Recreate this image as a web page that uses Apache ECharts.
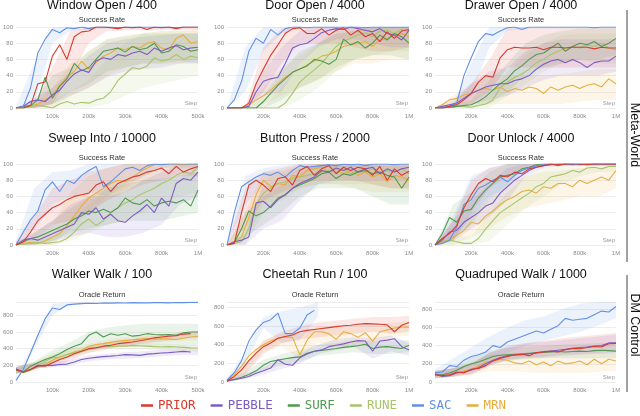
<!DOCTYPE html>
<html><head><meta charset="utf-8">
<script src="https://cdn.jsdelivr.net/npm/echarts@6.0.0/dist/echarts.min.js"></script>
<style>html,body{margin:0;padding:0;background:#fff}#c{width:640px;height:416px}</style>
</head><body><div id="c"></div>
<script>
// x positions (thousands of steps)
const xs500 = [0,20,40,60,80,100,120,140,160,180,200,220,240,260,280,300,320,340,360,380,400,420,440,460,480,500];
const xs1M = [0,40,80,120,160,200,240,280,320,360,400,440,480,520,560,600,640,680,720,760,800,840,880,920,960,1000];
const bx500 = [0,50,100,150,200,250,300,350,400,450,500];
const bx1M = [0,100,200,300,400,500,600,700,800,900,1000];

// Window Open / 400
const woSAC = [0,2,25,68,85,97,93,99,98,100,98,100,100,100,99,100,100,100,100,100,100,100,99,100,100,100];
const woPRIOR = [0,0,3,30,32,64,78,60,88,94,95,100,100,99,98,100,99,100,97,100,99,100,98,100,100,100];
const woPEBBLE = [0,2,8,10,8,16,22,33,42,47,44,58,62,60,66,64,68,70,66,74,70,74,77,72,74,75];
const woSURF = [0,2,3,10,38,12,27,36,55,46,50,60,70,72,74,69,76,72,74,80,68,70,78,76,70,72];
const woRUNE = [0,0,2,3,2,0,5,8,5,7,6,10,12,20,34,42,50,48,52,62,58,60,66,60,64,62];
const woMRN = [0,0,2,5,10,16,28,38,45,58,48,56,64,68,74,72,76,74,80,82,74,72,86,90,80,82];
const woSACBand = [[0,2],[5,55],[80,100],[95,100],[97,100],[98,100],[98,100],[98,100],[98,100],[98,100],[98,100]];
const woPRIORBand = [[0,0],[0,5],[5,50],[40,95],[80,100],[95,100],[96,100],[96,100],[96,100],[96,100],[96,100]];
const woPEBBLEBand = [[0,0],[0,12],[5,25],[15,45],[25,65],[38,80],[45,85],[48,88],[50,90],[55,92],[55,92]];
const woSURFBand = [[0,0],[0,10],[5,40],[20,50],[30,70],[45,85],[50,88],[55,92],[55,92],[58,92],[55,92]];
const woRUNEBand = [[0,0],[0,3],[0,10],[0,20],[0,35],[5,60],[15,80],[25,92],[30,95],[35,95],[40,95]];
const woMRNBand = [[0,0],[0,5],[0,25],[15,55],[25,70],[40,85],[50,90],[55,92],[55,95],[55,95],[60,97]];

// Door Open / 4000
const doSAC = [0,10,33,70,86,80,97,90,98,100,100,99,100,100,100,100,100,100,100,99,100,100,100,100,100,100];
const doPRIOR = [0,0,0,6,30,48,65,78,92,98,99,92,92,98,90,96,99,90,96,88,92,82,94,86,95,97];
const doPEBBLE = [0,0,0,2,20,33,36,38,55,74,78,80,86,93,96,98,97,100,98,96,94,98,92,90,84,96];
const doSURF = [0,0,0,0,0,8,18,28,36,44,48,52,60,58,54,60,85,78,82,74,80,90,84,92,88,80];
const doRUNE = [0,0,0,0,0,0,0,0,6,18,32,40,47,55,66,76,82,86,90,93,88,95,96,92,97,94];
const doMRN = [0,0,0,4,10,15,22,30,38,44,48,53,58,64,66,70,76,78,80,82,76,84,86,90,92,88];
const doSACBand = [[0,0],[20,75],[70,100],[92,100],[98,100],[98,100],[98,100],[98,100],[98,100],[98,100],[98,100]];
const doPRIORBand = [[0,0],[0,0],[20,75],[55,98],[80,100],[80,100],[80,100],[75,100],[70,100],[70,100],[75,100]];
const doPEBBLEBand = [[0,0],[0,0],[15,45],[20,75],[55,95],[75,100],[85,100],[85,100],[80,100],[75,100],[75,100]];
const doSURFBand = [[0,0],[0,0],[0,15],[10,45],[25,70],[35,80],[50,92],[60,95],[65,100],[65,100],[60,100]];
const doRUNEBand = [[0,0],[0,0],[0,0],[0,25],[10,55],[25,80],[45,95],[60,100],[65,100],[70,100],[70,100]];
const doMRNBand = [[0,0],[0,0],[5,25],[15,50],[25,65],[35,80],[45,90],[55,95],[55,98],[60,100],[60,100]];

// Drawer Open / 4000
const drSAC = [0,0,2,6,40,62,82,92,90,95,99,100,97,100,100,100,100,100,100,100,100,100,99,100,100,100];
const drPRIOR = [0,0,2,4,10,18,32,40,38,62,72,75,74,74,75,72,75,75,74,75,75,75,73,75,74,74];
const drPEBBLE = [0,2,4,6,12,18,22,26,28,30,30,34,36,40,48,54,58,60,56,60,56,50,56,58,58,64];
const drSURF = [0,0,1,2,3,4,8,14,22,30,36,46,52,60,66,68,74,80,70,76,80,78,82,76,80,86];
const drRUNE = [0,0,1,2,2,1,3,5,10,25,32,38,42,48,56,60,66,70,74,76,74,78,76,80,74,72];
const drMRN = [0,4,10,12,16,18,22,24,22,26,20,24,22,26,24,18,26,22,26,28,24,28,30,26,36,30];
const drSACBand = [[0,0],[0,5],[15,55],[75,100],[95,100],[98,100],[98,100],[98,100],[98,100],[98,100],[98,100]];
const drPRIORBand = [[0,0],[0,5],[5,30],[20,60],[50,98],[50,100],[50,100],[50,100],[50,100],[50,100],[50,100]];
const drPEBBLEBand = [[0,0],[0,10],[5,30],[10,45],[15,50],[25,70],[35,80],[40,85],[40,85],[40,85],[45,85]];
const drSURFBand = [[0,0],[0,5],[0,10],[5,35],[20,55],[40,80],[50,90],[55,95],[60,98],[60,98],[65,98]];
const drRUNEBand = [[0,0],[0,3],[0,5],[0,15],[15,45],[30,65],[45,80],[55,90],[60,92],[55,92],[55,92]];
const drMRNBand = [[0,0],[0,15],[5,30],[5,40],[5,40],[5,40],[5,40],[5,42],[8,45],[10,48],[10,48]];

// Sweep Into / 10000
const siSAC = [0,16,31,42,68,78,66,80,76,86,92,97,72,78,86,94,96,92,98,100,99,100,100,100,100,100];
const siPRIOR = [0,4,16,30,38,46,50,56,60,62,64,74,78,66,76,80,84,86,90,92,95,88,97,90,94,97];
const siPEBBLE = [0,6,8,6,10,14,18,22,26,40,38,46,32,38,30,28,36,42,50,40,58,48,76,82,80,90];
const siSURF = [0,4,8,10,14,18,22,26,32,36,42,40,44,40,46,58,52,50,56,48,52,54,52,56,48,68];
const siRUNE = [0,1,2,3,2,3,4,8,16,26,32,24,30,40,46,52,56,62,66,70,76,80,86,90,88,96];
const siMRN = [0,2,3,2,5,10,14,24,36,48,58,64,70,76,80,78,84,90,95,99,100,100,100,99,100,100];
const siSACBand = [[0,5],[20,70],[50,90],[60,92],[65,100],[60,100],[75,100],[85,100],[95,100],[98,100],[98,100]];
const siPRIORBand = [[0,5],[5,35],[25,70],[30,80],[40,90],[55,95],[65,100],[75,100],[80,100],[85,100],[85,100]];
const siPEBBLEBand = [[0,3],[0,15],[5,30],[10,50],[15,60],[10,60],[10,65],[15,80],[25,90],[50,100],[60,100]];
const siSURFBand = [[0,3],[0,15],[5,30],[15,45],[20,60],[25,70],[30,75],[30,80],[30,82],[35,85],[40,90]];
const siRUNEBand = [[0,0],[0,5],[0,10],[5,30],[15,50],[25,70],[30,80],[40,90],[50,95],[60,100],[65,100]];
const siMRNBand = [[0,0],[0,5],[0,25],[20,65],[40,85],[60,95],[70,100],[85,100],[95,100],[95,100],[95,100]];

// Button Press / 2000
const bpSAC = [0,40,72,78,84,88,86,90,84,92,98,96,97,98,99,98,100,99,100,98,100,100,100,99,100,100];
const bpPRIOR = [0,2,40,74,80,74,66,82,84,74,92,97,86,94,98,88,96,92,96,94,86,97,80,94,86,91];
const bpPEBBLE = [0,4,6,10,52,54,46,56,62,70,76,80,84,92,90,95,92,96,90,94,96,88,94,90,94,96];
const bpSURF = [0,3,20,42,36,40,48,58,62,70,74,78,82,88,90,82,88,86,90,92,88,90,86,84,70,84];
const bpRUNE = [0,2,4,20,50,64,70,76,78,82,84,86,88,90,92,90,94,88,92,90,94,88,92,90,94,88];
const bpMRN = [0,4,10,34,62,80,72,76,74,86,84,92,94,96,90,94,88,92,86,90,84,88,78,86,84,80];
const bpSACBand = [[0,5],[50,85],[75,95],[80,98],[92,100],[95,100],[96,100],[97,100],[97,100],[98,100],[98,100]];
const bpPRIORBand = [[0,0],[20,70],[55,90],[65,95],[75,100],[80,100],[80,100],[80,100],[75,100],[70,100],[70,100]];
const bpPEBBLEBand = [[0,0],[0,15],[20,75],[30,80],[55,95],[75,100],[80,100],[80,100],[80,100],[80,100],[80,100]];
const bpSURFBand = [[0,0],[10,40],[25,60],[40,75],[60,90],[70,98],[70,98],[70,98],[60,98],[50,98],[50,98]];
const bpRUNEBand = [[0,0],[0,20],[40,80],[60,90],[70,95],[75,98],[75,98],[75,98],[75,98],[70,98],[70,98]];
const bpMRNBand = [[0,0],[5,40],[50,90],[55,92],[70,98],[75,100],[75,100],[70,100],[65,98],[65,98],[65,98]];

// Door Unlock / 4000
const duSAC = [0,2,6,22,50,56,70,74,80,84,78,86,92,95,98,99,100,100,100,99,100,100,100,100,100,100];
const duPRIOR = [0,8,14,24,46,62,76,82,78,86,84,90,88,94,96,98,100,99,100,100,100,99,100,100,100,100];
const duPEBBLE = [0,6,16,18,28,34,40,48,52,64,72,80,86,92,96,98,99,100,100,100,100,100,100,100,100,100];
const duSURF = [0,14,34,28,42,44,58,68,76,84,86,88,94,96,99,100,100,98,100,100,99,100,100,100,100,100];
const duRUNE = [0,4,6,4,2,2,8,20,30,40,46,52,58,64,72,76,84,86,88,92,90,95,96,94,97,97];
const duMRN = [0,4,6,12,18,28,26,36,42,50,56,60,66,68,64,72,70,76,76,72,80,76,80,84,80,92];
const duSACBand = [[0,0],[5,35],[35,85],[60,95],[70,100],[92,100],[98,100],[98,100],[98,100],[98,100],[98,100]];
const duPRIORBand = [[0,0],[5,30],[40,80],[70,95],[85,100],[95,100],[98,100],[98,100],[98,100],[98,100],[98,100]];
const duPEBBLEBand = [[0,0],[5,30],[20,55],[35,75],[55,95],[85,100],[95,100],[98,100],[98,100],[98,100],[98,100]];
const duSURFBand = [[0,0],[10,50],[25,65],[55,90],[75,100],[95,100],[98,100],[98,100],[98,100],[98,100],[98,100]];
const duRUNEBand = [[0,0],[0,12],[0,10],[5,40],[25,65],[45,85],[60,95],[75,100],[85,100],[90,100],[90,100]];
const duMRNBand = [[0,0],[0,15],[10,40],[20,55],[35,75],[45,85],[50,90],[55,92],[60,95],[60,95],[70,100]];

// Walker Walk / 100
const wwSAC = [20,150,350,560,760,888,870,925,935,940,945,942,948,946,950,948,952,950,950,952,953,950,954,952,955,955];
const wwPRIOR = [150,120,150,200,190,230,270,300,340,370,400,410,430,440,460,470,480,495,510,530,540,550,555,575,580,null];
const wwPEBBLE = [160,120,150,190,200,200,210,215,240,270,285,295,305,310,318,328,325,320,335,340,348,352,360,368,360,null];
const wwSURF = [140,120,190,230,270,300,340,390,430,460,560,600,540,580,560,580,550,560,580,570,565,570,560,590,600,600];
const wwRUNE = [140,110,150,190,250,290,300,330,350,370,390,410,420,425,430,430,440,435,430,425,420,425,420,415,410,408];
const wwMRN = [150,110,140,180,210,260,300,330,360,380,430,450,460,475,490,500,505,515,520,515,520,515,510,525,540,545];
const wwSACBand = [[0,60],[400,480],[800,940],[930,955],[940,960],[945,960],[945,960],[945,960],[945,960],[945,960],[945,960]];
const wwPRIORBand = [[100,180],[160,220],[180,260],[260,330],[350,430],[400,480],[430,500],[460,540],[490,560],[520,590],[540,610]];
const wwPEBBLEBand = [[100,180],[160,230],[180,240],[200,260],[250,320],[270,340],[280,360],[290,370],[310,390],[320,400],[320,400]];
const wwSURFBand = [[100,180],[150,250],[220,380],[300,480],[380,600],[420,650],[420,680],[420,700],[420,700],[420,700],[430,700]];
const wwRUNEBand = [[100,180],[160,240],[260,340],[320,400],[350,430],[380,460],[390,470],[390,470],[380,460],[370,450],[360,440]];
const wwMRNBand = [[100,180],[150,230],[220,320],[300,400],[380,460],[420,510],[450,540],[470,560],[480,570],[490,580],[500,590]];

// Cheetah Run / 100
const crSAC = [20,100,230,440,560,640,670,740,520,520,580,720,770,null,null,null,null,null,null,null,null,null,null,null,null,null];
const crPRIOR = [10,60,130,230,310,380,420,470,490,505,540,555,565,575,585,595,605,610,620,628,625,620,615,540,610,640];
const crPEBBLE = [10,25,40,60,95,120,150,240,190,180,260,300,330,345,380,395,410,430,445,440,330,440,450,465,380,345];
const crSURF = [10,30,50,80,120,180,220,235,250,262,270,310,330,340,350,360,372,380,390,405,360,375,380,370,360,395];
const crMRN = [20,80,170,280,350,400,440,470,485,480,290,450,540,540,520,460,540,520,480,530,440,540,560,580,590,590];
const crSACBand = [[0,40],[200,320],[580,700],[420,760],[450,800],[700,860],null,null,null,null,null];
const crPRIORBand = [[0,20],[80,180],[300,440],[420,540],[460,600],[480,640],[500,660],[520,680],[540,700],[520,700],[540,710]];
const crPEBBLEBand = [[0,20],[30,90],[80,160],[140,240],[200,300],[300,400],[340,460],[380,480],[250,470],[330,500],[280,420]];
const crSURFBand = [[0,20],[40,110],[120,240],[180,300],[220,340],[280,400],[300,420],[320,450],[300,440],[300,440],[320,450]];
const crMRNBand = [[0,40],[100,220],[330,450],[380,520],[250,520],[420,600],[380,600],[380,600],[400,620],[480,640],[500,650]];

// Quadruped Walk / 1000
const qwSAC = [100,110,180,170,240,280,300,330,400,380,440,470,500,530,560,540,580,620,700,680,690,700,740,780,770,830];
const qwPRIOR = [80,70,80,110,100,140,150,180,230,260,280,300,305,290,325,330,340,330,355,370,365,380,390,385,420,425];
const qwPEBBLE = [90,60,70,100,110,130,160,200,240,270,290,295,300,310,320,335,340,350,360,370,380,385,395,400,430,430];
const qwSURF = [80,80,100,130,170,200,220,250,280,295,300,305,310,315,320,325,330,335,330,335,340,335,345,350,345,340];
const qwMRN = [80,60,80,100,120,140,180,220,230,250,240,210,200,230,190,220,180,230,200,210,230,190,250,200,250,230];
const qwSACBand = [[60,140],[100,260],[180,380],[250,500],[320,600],[400,680],[450,720],[500,800],[550,860],[620,880],[700,880]];
const qwPRIORBand = [[40,120],[60,150],[80,200],[180,320],[250,400],[270,430],[280,450],[300,480],[310,500],[320,520],[330,540]];
const qwPEBBLEBand = [[40,120],[60,150],[90,200],[180,320],[240,380],[260,420],[270,440],[290,460],[300,480],[310,500],[320,520]];
const qwSURFBand = [[40,120],[60,150],[130,270],[200,340],[230,380],[250,390],[260,400],[260,410],[260,420],[260,430],[260,430]];
const qwMRNBand = [[40,120],[50,150],[80,220],[120,300],[120,320],[110,300],[100,300],[100,300],[100,310],[110,320],[120,320]];

const methods = ['PRIOR','PEBBLE','SURF','RUNE','SAC','MRN'];
const colors = {PRIOR:'#d93a2e', PEBBLE:'#7b5cc4', SURF:'#4f9a50', RUNE:'#a9c46c', SAC:'#6190e6', MRN:'#e7ae3f'};

const panels = [
  {title:'Window Open / 400', sub:'Success Rate', xs:xs500, bx:bx500, xmax:500, xint:100, ymax:100, yint:20,
   lines:{PRIOR:woPRIOR,PEBBLE:woPEBBLE,SURF:woSURF,RUNE:woRUNE,SAC:woSAC,MRN:woMRN},
   bands:{PRIOR:woPRIORBand,PEBBLE:woPEBBLEBand,SURF:woSURFBand,RUNE:woRUNEBand,SAC:woSACBand,MRN:woMRNBand}},
  {title:'Door Open / 4000', sub:'Success Rate', xs:xs1M, bx:bx1M, xmax:1000, xint:200, ymax:100, yint:20,
   lines:{PRIOR:doPRIOR,PEBBLE:doPEBBLE,SURF:doSURF,RUNE:doRUNE,SAC:doSAC,MRN:doMRN},
   bands:{PRIOR:doPRIORBand,PEBBLE:doPEBBLEBand,SURF:doSURFBand,RUNE:doRUNEBand,SAC:doSACBand,MRN:doMRNBand}},
  {title:'Drawer Open / 4000', sub:'Success Rate', xs:xs1M, bx:bx1M, xmax:1000, xint:200, ymax:100, yint:20,
   lines:{PRIOR:drPRIOR,PEBBLE:drPEBBLE,SURF:drSURF,RUNE:drRUNE,SAC:drSAC,MRN:drMRN},
   bands:{PRIOR:drPRIORBand,PEBBLE:drPEBBLEBand,SURF:drSURFBand,RUNE:drRUNEBand,SAC:drSACBand,MRN:drMRNBand}},
  {title:'Sweep Into / 10000', sub:'Success Rate', xs:xs1M, bx:bx1M, xmax:1000, xint:200, ymax:100, yint:20,
   lines:{PRIOR:siPRIOR,PEBBLE:siPEBBLE,SURF:siSURF,RUNE:siRUNE,SAC:siSAC,MRN:siMRN},
   bands:{PRIOR:siPRIORBand,PEBBLE:siPEBBLEBand,SURF:siSURFBand,RUNE:siRUNEBand,SAC:siSACBand,MRN:siMRNBand}},
  {title:'Button Press / 2000', sub:'Success Rate', xs:xs1M, bx:bx1M, xmax:1000, xint:200, ymax:100, yint:20,
   lines:{PRIOR:bpPRIOR,PEBBLE:bpPEBBLE,SURF:bpSURF,RUNE:bpRUNE,SAC:bpSAC,MRN:bpMRN},
   bands:{PRIOR:bpPRIORBand,PEBBLE:bpPEBBLEBand,SURF:bpSURFBand,RUNE:bpRUNEBand,SAC:bpSACBand,MRN:bpMRNBand}},
  {title:'Door Unlock / 4000', sub:'Success Rate', xs:xs1M, bx:bx1M, xmax:1000, xint:200, ymax:100, yint:20,
   lines:{PRIOR:duPRIOR,PEBBLE:duPEBBLE,SURF:duSURF,RUNE:duRUNE,SAC:duSAC,MRN:duMRN},
   bands:{PRIOR:duPRIORBand,PEBBLE:duPEBBLEBand,SURF:duSURFBand,RUNE:duRUNEBand,SAC:duSACBand,MRN:duMRNBand}},
  {title:'Walker Walk / 100', sub:'Oracle Return', xs:xs500, bx:bx500, xmax:500, xint:100, ymax:960, yint:200,
   lines:{PRIOR:wwPRIOR,PEBBLE:wwPEBBLE,SURF:wwSURF,RUNE:wwRUNE,SAC:wwSAC,MRN:wwMRN},
   bands:{PRIOR:wwPRIORBand,PEBBLE:wwPEBBLEBand,SURF:wwSURFBand,RUNE:wwRUNEBand,SAC:wwSACBand,MRN:wwMRNBand}},
  {title:'Cheetah Run / 100', sub:'Oracle Return', xs:xs1M, bx:bx1M, xmax:1000, xint:200, ymax:860, yint:200,
   lines:{PRIOR:crPRIOR,PEBBLE:crPEBBLE,SURF:crSURF,SAC:crSAC,MRN:crMRN},
   bands:{PRIOR:crPRIORBand,PEBBLE:crPEBBLEBand,SURF:crSURFBand,SAC:crSACBand,MRN:crMRNBand}},
  {title:'Quadruped Walk / 1000', sub:'Oracle Return', xs:xs1M, bx:bx1M, xmax:1000, xint:200, ymax:880, yint:200,
   lines:{PRIOR:qwPRIOR,PEBBLE:qwPEBBLE,SURF:qwSURF,SAC:qwSAC,MRN:qwMRN},
   bands:{PRIOR:qwPRIORBand,PEBBLE:qwPEBBLEBand,SURF:qwSURFBand,SAC:qwSACBand,MRN:qwMRNBand}}
];

const cols = [{left:16,width:182,cx:102},{left:227,width:182,cx:315},{left:435,width:181,cx:521}];
const rows = [{top:27,height:81,tTop:-1,sTop:16},{top:164,height:81,tTop:132,sTop:153.5},{top:302,height:80,tTop:268,sTop:291}];

function rgba(hex,a){const n=parseInt(hex.slice(1),16);return `rgba(${n>>16&255},${n>>8&255},${n&255},${a})`;}

const grid=[], xAxis=[], yAxis=[], series=[], title=[], graphic=[];
const drawOrder = ['MRN','RUNE','SURF','PEBBLE','SAC','PRIOR'];
panels.forEach((p,i)=>{
  const c=cols[i%3], r=rows[Math.floor(i/3)];
  grid.push({left:c.left, top:r.top, width:c.width, height:r.height, containLabel:false});
  xAxis.push({type:'value', gridIndex:i, min:0, max:p.xmax, interval:p.xint,
    axisLine:{show:false}, axisTick:{show:false}, splitLine:{show:false},
    axisLabel:{fontSize:6, color:'#8a8a8a', margin:5, fontFamily:'Liberation Sans',
      formatter:v=> v===0 ? '' : (v>=1000 ? '1M' : v+'k')}});
  const yint=p.yint;
  yAxis.push({type:'value', gridIndex:i, min:0, max:p.ymax, interval:yint,
    axisLine:{show:false}, axisTick:{show:false},
    splitLine:{lineStyle:{color:'#ededed', width:1}},
    axisLabel:{fontSize:6, color:'#8a8a8a', margin:3, fontFamily:'Liberation Sans',
      formatter:v=> (v % yint === 0 ? String(v) : '')}});
  title.push({text:p.title, left:c.cx, top:r.tTop, textAlign:'center', padding:0,
    textStyle:{fontSize:12.5, fontWeight:'normal', color:'#111', fontFamily:'Liberation Sans'}});
  title.push({text:p.sub, left:c.cx, top:r.sTop, textAlign:'center', padding:0,
    textStyle:{fontSize:7.5, fontWeight:'normal', color:'#333', fontFamily:'Liberation Sans'}});
  graphic.push({type:'text', x:c.left+c.width-1, y:r.top+r.height-1.5, silent:true,
    style:{text:'Step', fill:'#999', font:'6px "Liberation Sans"', align:'right', verticalAlign:'bottom'}});
  // bands
  drawOrder.forEach(m=>{
    const band=p.bands[m]; if(!band) return;
    const bx=p.bx, col=colors[m];
    series.push({type:'custom', xAxisIndex:i, yAxisIndex:i, z:1, silent:true, clip:true, data:[[0,0]],
      renderItem:(params,api)=>{
        const up=[], lo=[];
        band.forEach((b,j)=>{ if(!b) return; up.push(api.coord([bx[j],b[1]])); lo.push(api.coord([bx[j],b[0]])); });
        return {type:'polygon', shape:{points:up.concat(lo.reverse())}, style:{fill:rgba(col,0.12)}};
      }});
  });
  drawOrder.forEach(m=>{
    const vals=p.lines[m]; if(!vals) return;
    series.push({type:'line', name:m, xAxisIndex:i, yAxisIndex:i, z:3, silent:true,
      data:p.xs.map((x,j)=>[x,vals[j]]).filter(d=>d[1]!=null),
      showSymbol:false, symbol:'none', color:colors[m],
      lineStyle:{width:1.1, color:colors[m]}, itemStyle:{color:colors[m]}});
  });
});

graphic.push({type:'line', silent:true, shape:{x1:627,y1:10,x2:627,y2:262}, style:{stroke:'#444', lineWidth:1}});
graphic.push({type:'line', silent:true, shape:{x1:627,y1:275,x2:627,y2:392}, style:{stroke:'#444', lineWidth:1}});
graphic.push({type:'text', x:634, y:135, rotation:-Math.PI/2, silent:true,
  style:{text:'Meta-World', fill:'#111', font:'12.5px "Liberation Sans"', align:'center', verticalAlign:'middle'}});
graphic.push({type:'text', x:634, y:325, rotation:-Math.PI/2, silent:true,
  style:{text:'DM Control', fill:'#111', font:'12.5px "Liberation Sans"', align:'center', verticalAlign:'middle'}});

const chart = echarts.init(document.getElementById('c'), null, {renderer:'canvas'});
chart.setOption({
  animation:false,
  backgroundColor:'#fff',
  title, grid, xAxis, yAxis, series, graphic,
  legend:{left:141, top:399, padding:0, itemWidth:12, itemHeight:2.5, itemGap:15, icon:'rect', selectedMode:false,
    textStyle:{fontFamily:'DejaVu Sans Mono', fontSize:12.5},
    data:methods.map(n=>({name:n, textStyle:{color:colors[n]}}))}
});
</script>
</body></html>
